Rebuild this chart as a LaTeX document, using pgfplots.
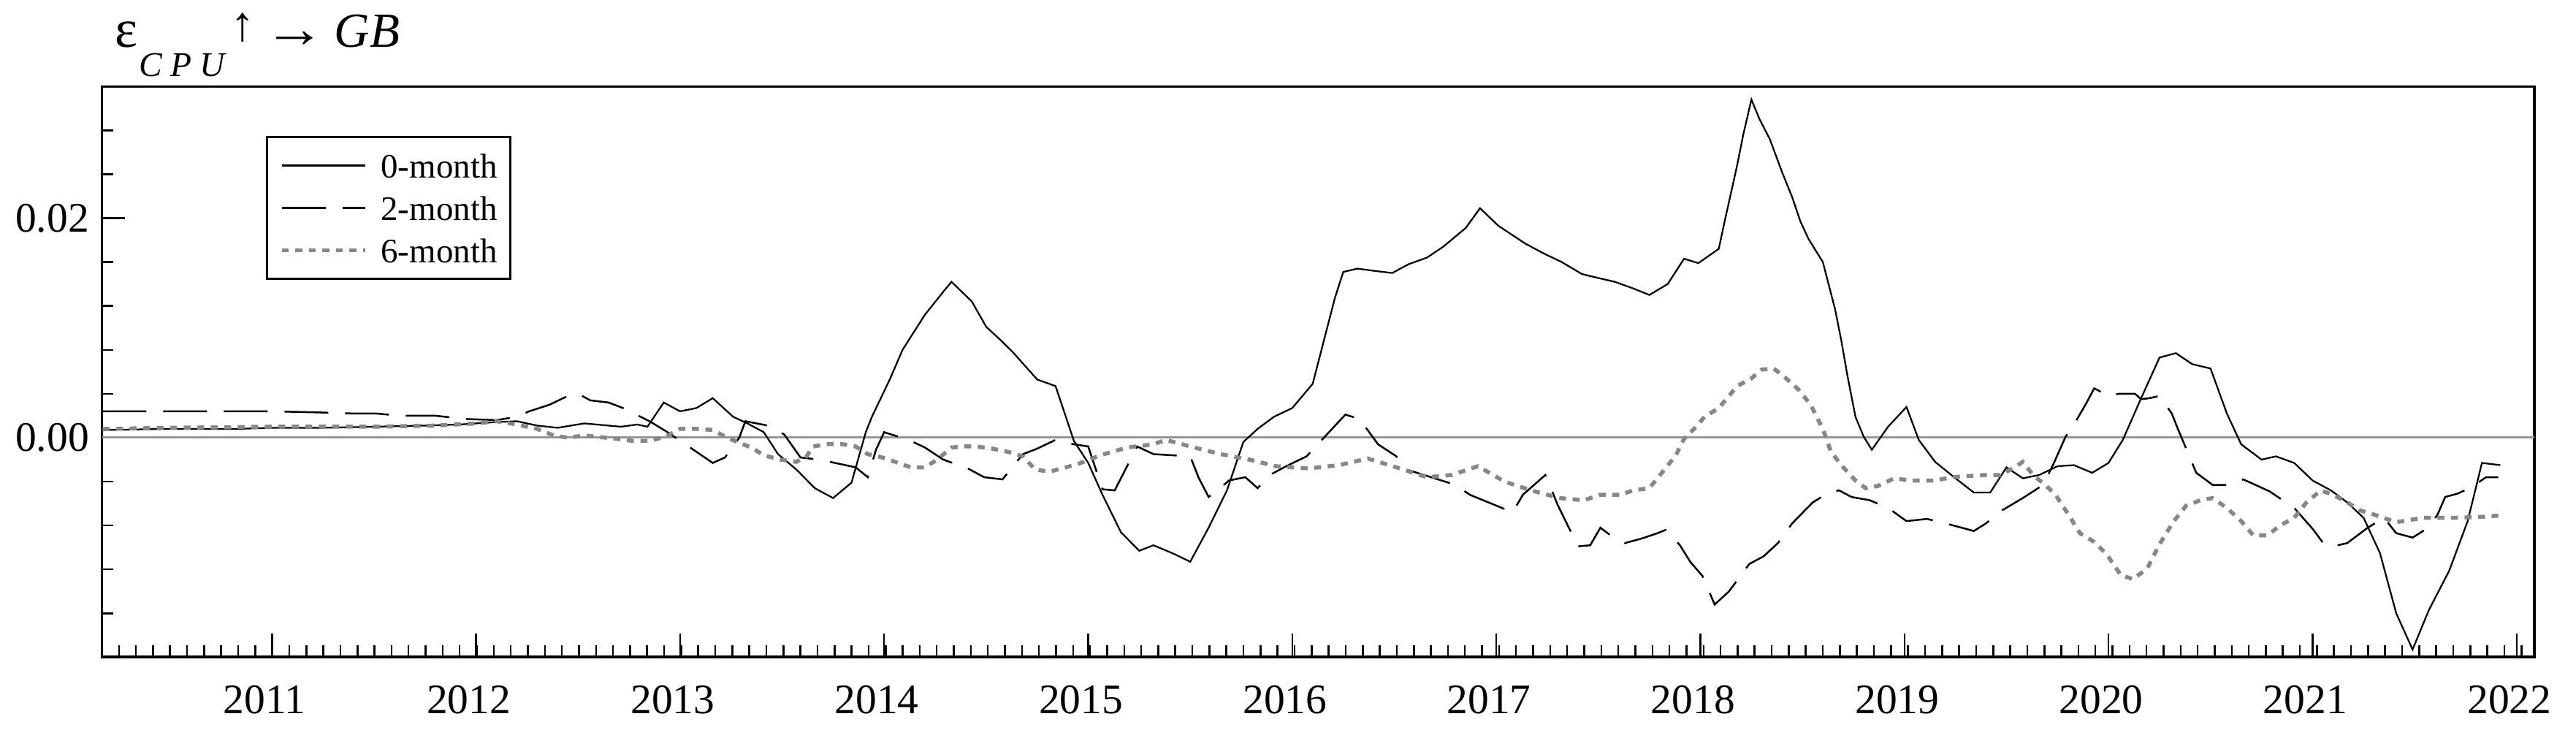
\documentclass[border=0pt]{standalone}
\usepackage{fontspec}
\setmainfont{Liberation Serif}
\usepackage{pgfplots}
\pgfplotsset{compat=1.18}
\usepackage{pgfplotstable}

\definecolor{dotgray}{RGB}{135,135,135}
\definecolor{zerogray}{RGB}{150,150,150}

\pgfplotstableread{
t v
2010.17 0.0007
2010.50 0.0008
2010.83 0.0008
2011.00 0.0009
2011.25 0.0009
2011.50 0.0010
2011.75 0.0011
2011.92 0.0012
2012.08 0.0014
2012.20 0.0015
2012.30 0.0011
2012.40 0.0009
2012.53 0.0013
2012.71 0.0010
2012.79 0.0012
2012.84 0.0010
2012.92 0.0032
2013.00 0.0024
2013.08 0.0027
2013.16 0.0036
2013.26 0.0019
2013.33 0.0013
2013.41 0.0005
2013.48 -0.0015
2013.57 -0.0029
2013.66 -0.0046
2013.75 -0.0055
2013.84 -0.0041
2013.91 0.0005
2013.94 0.0019
2014.03 0.0054
2014.09 0.0080
2014.20 0.0112
2014.29 0.0133
2014.33 0.0142
2014.43 0.0124
2014.50 0.0101
2014.57 0.0089
2014.63 0.0078
2014.75 0.0053
2014.84 0.0047
2014.93 -0.0003
2015.00 -0.0023
2015.07 -0.0052
2015.16 -0.0086
2015.25 -0.0103
2015.32 -0.0098
2015.41 -0.0105
2015.50 -0.0113
2015.59 -0.0082
2015.68 -0.0048
2015.76 -0.0004
2015.83 0.0008
2015.91 0.0019
2016.00 0.0027
2016.10 0.0049
2016.15 0.0085
2016.21 0.0128
2016.25 0.0151
2016.32 0.0154
2016.40 0.0152
2016.49 0.0150
2016.57 0.0158
2016.66 0.0164
2016.74 0.0174
2016.85 0.0191
2016.92 0.0209
2017.01 0.0193
2017.14 0.0177
2017.23 0.0168
2017.32 0.0160
2017.42 0.0149
2017.51 0.0145
2017.58 0.0142
2017.67 0.0136
2017.75 0.0130
2017.84 0.0140
2017.92 0.0163
2017.99 0.0159
2018.09 0.0172
2018.12 0.0198
2018.18 0.0248
2018.21 0.0276
2018.25 0.0308
2018.29 0.0290
2018.34 0.0272
2018.40 0.0242
2018.45 0.0219
2018.49 0.0197
2018.53 0.0181
2018.60 0.0160
2018.66 0.0117
2018.69 0.0089
2018.72 0.0057
2018.76 0.0019
2018.80 0.0001
2018.84 -0.0011
2018.92 0.0010
2019.01 0.0028
2019.07 -0.0002
2019.15 -0.0022
2019.25 -0.0037
2019.34 -0.0050
2019.42 -0.0050
2019.50 -0.0027
2019.58 -0.0037
2019.66 -0.0034
2019.75 -0.0026
2019.83 -0.0025
2019.92 -0.0032
2020.00 -0.0023
2020.07 -0.0002
2020.16 0.0036
2020.25 0.0073
2020.33 0.0077
2020.41 0.0067
2020.50 0.0063
2020.58 0.0022
2020.65 -0.0006
2020.75 -0.0020
2020.82 -0.0017
2020.91 -0.0023
2021.00 -0.0039
2021.09 -0.0048
2021.17 -0.0059
2021.25 -0.0073
2021.33 -0.0105
2021.41 -0.0160
2021.49 -0.0193
2021.57 -0.0157
2021.67 -0.0121
2021.76 -0.0076
2021.83 -0.0023
2021.92 -0.0025
}\zeromonth

\pgfplotstableread{
t v
2010.17 0.0024
2010.50 0.0024
2010.83 0.0024
2011.00 0.0024
2011.23 0.0023
2011.40 0.0022
2011.51 0.0022
2011.63 0.0020
2011.80 0.0020
2011.95 0.0017
2012.10 0.0016
2012.20 0.0019
2012.26 0.0024
2012.36 0.0030
2012.45 0.0038
2012.50 0.0040
2012.56 0.0034
2012.65 0.0032
2012.72 0.0027
2012.85 0.0015
2012.93 0.0006
2013.01 -0.0004
2013.16 -0.0023
2013.22 -0.0018
2013.29 0.0000
2013.32 0.0015
2013.43 0.0011
2013.51 0.0003
2013.59 -0.0018
2013.68 -0.0020
2013.76 -0.0023
2013.86 -0.0027
2013.92 -0.0036
2013.96 -0.0011
2014.00 0.0005
2014.12 -0.0002
2014.20 -0.0009
2014.29 -0.0020
2014.41 -0.0028
2014.49 -0.0036
2014.58 -0.0038
2014.68 -0.0015
2014.75 -0.0010
2014.84 -0.0002
2014.93 -0.0006
2015.00 -0.0008
2015.07 -0.0047
2015.13 -0.0048
2015.24 -0.0008
2015.32 -0.0015
2015.50 -0.0017
2015.54 -0.0036
2015.59 -0.0054
2015.64 -0.0047
2015.69 -0.0039
2015.77 -0.0036
2015.83 -0.0046
2015.89 -0.0034
2015.97 -0.0026
2016.07 -0.0017
2016.26 0.0021
2016.33 0.0017
2016.42 -0.0006
2016.51 -0.0017
2016.56 -0.0029
2016.80 -0.0043
2016.87 -0.0052
2017.08 -0.0068
2017.13 -0.0052
2017.24 -0.0034
2017.27 -0.0047
2017.30 -0.0061
2017.40 -0.0099
2017.46 -0.0098
2017.51 -0.0082
2017.56 -0.0089
2017.63 -0.0096
2017.71 -0.0092
2017.79 -0.0087
2017.83 -0.0084
2017.90 -0.0098
2017.95 -0.0113
2018.01 -0.0126
2018.07 -0.0152
2018.14 -0.0140
2018.24 -0.0115
2018.31 -0.0108
2018.38 -0.0096
2018.45 -0.0078
2018.55 -0.0059
2018.63 -0.0050
2018.68 -0.0048
2018.74 -0.0054
2018.83 -0.0057
2018.92 -0.0064
2019.01 -0.0076
2019.11 -0.0074
2019.20 -0.0078
2019.34 -0.0085
2019.40 -0.0078
2019.48 -0.0066
2019.58 -0.0055
2019.68 -0.0043
2019.73 -0.0024
2019.79 0.0001
2019.84 0.0015
2019.89 0.0031
2019.93 0.0045
2020.00 0.0038
2020.05 0.0040
2020.13 0.0040
2020.16 0.0035
2020.20 0.0036
2020.25 0.0038
2020.31 0.0022
2020.34 0.0008
2020.43 -0.0032
2020.51 -0.0043
2020.59 -0.0043
2020.66 -0.0038
2020.72 -0.0043
2020.79 -0.0049
2020.91 -0.0064
2021.00 -0.0083
2021.06 -0.0098
2021.10 -0.0099
2021.17 -0.0096
2021.27 -0.0082
2021.35 -0.0073
2021.41 -0.0087
2021.49 -0.0091
2021.55 -0.0084
2021.61 -0.0071
2021.65 -0.0054
2021.71 -0.0051
2021.78 -0.0045
2021.85 -0.0036
2021.91 -0.0036
}\twomonth

\pgfplotstableread{
t v
2010.17 0.0008
2010.50 0.0009
2011.00 0.0010
2011.50 0.0010
2011.80 0.0011
2012.00 0.0013
2012.10 0.0015
2012.20 0.0012
2012.30 0.0008
2012.38 0.0002
2012.45 0.0000
2012.53 0.0002
2012.69 -0.0001
2012.77 -0.0003
2012.85 -0.0003
2012.93 0.0001
2013.00 0.0008
2013.08 0.0008
2013.16 0.0007
2013.22 0.0001
2013.28 -0.0004
2013.35 -0.0009
2013.41 -0.0016
2013.49 -0.0020
2013.57 -0.0022
2013.62 -0.0017
2013.65 -0.0008
2013.72 -0.0006
2013.80 -0.0006
2013.86 -0.0008
2013.92 -0.0015
2013.99 -0.0018
2014.07 -0.0023
2014.13 -0.0027
2014.20 -0.0027
2014.26 -0.0020
2014.33 -0.0009
2014.39 -0.0008
2014.45 -0.0008
2014.53 -0.0010
2014.61 -0.0013
2014.68 -0.0017
2014.74 -0.0029
2014.81 -0.0031
2014.89 -0.0027
2014.95 -0.0024
2015.06 -0.0016
2015.19 -0.0009
2015.32 -0.0006
2015.38 -0.0002
2015.52 -0.0009
2015.65 -0.0015
2015.79 -0.0020
2015.92 -0.0026
2016.08 -0.0028
2016.23 -0.0025
2016.37 -0.0019
2016.51 -0.0027
2016.66 -0.0036
2016.78 -0.0034
2016.91 -0.0026
2017.04 -0.0040
2017.17 -0.0048
2017.31 -0.0055
2017.43 -0.0057
2017.51 -0.0052
2017.61 -0.0052
2017.67 -0.0048
2017.75 -0.0046
2017.82 -0.0030
2017.88 -0.0016
2017.92 -0.0001
2017.98 0.0010
2018.02 0.0019
2018.09 0.0027
2018.14 0.0038
2018.18 0.0047
2018.25 0.0054
2018.30 0.0062
2018.36 0.0063
2018.42 0.0054
2018.48 0.0044
2018.54 0.0030
2018.60 0.0008
2018.64 -0.0013
2018.70 -0.0027
2018.76 -0.0039
2018.81 -0.0046
2018.87 -0.0044
2018.95 -0.0037
2019.03 -0.0039
2019.15 -0.0039
2019.23 -0.0036
2019.39 -0.0034
2019.47 -0.0034
2019.54 -0.0027
2019.58 -0.0022
2019.63 -0.0034
2019.69 -0.0043
2019.74 -0.0052
2019.80 -0.0069
2019.86 -0.0087
2019.93 -0.0095
2019.99 -0.0106
2020.06 -0.0125
2020.12 -0.0129
2020.19 -0.0119
2020.25 -0.0097
2020.32 -0.0076
2020.38 -0.0062
2020.45 -0.0057
2020.51 -0.0055
2020.58 -0.0064
2020.65 -0.0076
2020.71 -0.0089
2020.78 -0.0089
2020.84 -0.0080
2020.91 -0.0073
2020.97 -0.0059
2021.04 -0.0048
2021.10 -0.0052
2021.17 -0.0059
2021.23 -0.0066
2021.30 -0.0070
2021.41 -0.0077
2021.54 -0.0073
2021.69 -0.0073
2021.84 -0.0072
2021.91 -0.0071
}\sixmonth

\begin{document}
\begin{tikzpicture}
\begin{axis}[
  scale only axis,
  width=665.9pt, height=156.1pt,
  xmin=2010.1667, xmax=2022.087,
  ymin=-0.01997, ymax=0.03198,
  scaled y ticks=false,
  scaled x ticks=false,
  axis line style={line width=0.7pt},
  tick style={line width=0.5pt, black},
  tick align=inside,
  tick pos=left,
  xtick={2011,2012,2013,2014,2015,2016,2017,2018,2019,2020,2021,2022},
  xticklabels={2011,2012,2013,2014,2015,2016,2017,2018,2019,2020,2021,2022},
  minor xtick={2010.25,2010.3333333,...,2022.05},
  ytick={0,0.02},
  yticklabels={0.00,0.02},
  minor ytick={-0.016,-0.012,-0.008,-0.004,0.004,0.008,0.012,0.016,0.024,0.028},
  major tick length=6.3pt,
  minor tick length=3.1pt,
  ticklabel style={font=\fontsize{11.5}{11.5}\selectfont},
  xticklabel style={yshift=-4.4pt, xshift=-2pt},
  legend cell align=left,
  legend image code/.code={\draw[#1] (0pt,0pt) -- (22.8pt,0pt);},
  legend style={at={(axis description cs:0.0674,0.9135)}, anchor=north west,
    draw=black, line width=0.6pt, inner xsep=3.5pt, inner ysep=4.5pt,
    font=\fontsize{9.4}{9.4}\selectfont, row sep=5pt, column sep=3.8pt,
    nodes={inner sep=0pt, text height=6.6pt, text depth=0pt}},
]
\addplot[zerogray, line width=0.6pt, forget plot] coordinates {(2010.1667,0) (2022.087,0)};
\addplot[black, line width=0.45pt] table[x=t, y=v] {\zeromonth};
\addlegendentry{0-month}
\addplot[black, line width=0.5pt, dash pattern=on 12pt off 4.6pt] table[x=t, y=v] {\twomonth};
\addlegendentry{2-month}
\addplot[dotgray, line width=1.1pt, dash pattern=on 1.9pt off 1.8pt] table[x=t, y=v] {\sixmonth};
\addlegendentry{6-month}
\coordinate (SW) at (rel axis cs:0,0);
\coordinate (NE) at (rel axis cs:1,1);
\coordinate (NW) at (rel axis cs:0,1);
\end{axis}
\node[anchor=base west, inner sep=0pt, font=\fontsize{13.4}{13.4}\selectfont]
  at ([shift={(3.5pt,10.7pt)}]NW)
  {\scalebox{1.1}{ε}\kern0.4pt\raisebox{-1.3ex}{\fontsize{9.5}{9.5}\selectfont\itshape C\kern2.2pt P\kern2.2pt U}\kern1.5pt\raisebox{0.3ex}{↑}\kern2.5pt\scalebox{1.25}[1.1]{→}\kern2.5pt\textit{GB}};
\pgfresetboundingbox
\path ([shift={(-27.9pt,-25.2pt)}]SW) rectangle ([shift={(11.4pt,23.7pt)}]NE);
\end{tikzpicture}
\end{document}
